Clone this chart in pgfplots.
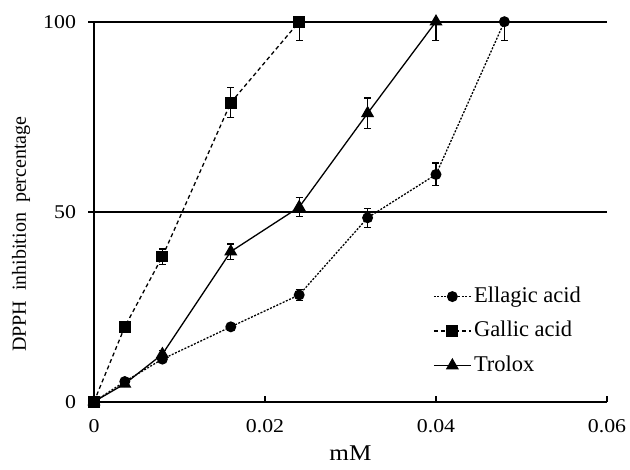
\documentclass[border=0pt]{standalone}
\usepackage{fontspec}
\setmainfont{Liberation Serif}
\newfontfamily\tickfont{Liberation Serif}[FakeStretch=1.12]
\usepackage{pgfplots}
\pgfplotsset{compat=1.18}

\begin{document}
\begin{tikzpicture}
\path[use as bounding box] (-94pt,-68.3pt) rectangle (536pt,401.7pt);
\begin{axis}[
    width=513pt, height=380pt, scale only axis,
    xmin=0, xmax=0.06, ymin=0, ymax=100,
    axis x line=bottom, axis y line=left,
    axis line style={-, line width=2pt},
    xtick={0,0.02,0.04,0.06}, xticklabels={0,0.02,0.04,0.06},
    ytick={0,50,100}, yticklabels={0,50,100},
    scaled x ticks=false,
    major tick length=0pt,
    ymajorgrids, grid style={line width=2pt, black},
    xticklabel style={font=\tickfont\fontsize{19.5}{20}\selectfont, yshift=-14.5pt},
    yticklabel style={font=\tickfont\fontsize{19.5}{20}\selectfont, xshift=-14.5pt},
    xlabel={mM},
    xlabel style={font=\tickfont\fontsize{22.5}{24}\selectfont, at={([yshift=-51pt]rel axis cs:0.5,0)}, anchor=center},
    ylabel={DPPH\ \ inhibition\ \ percentage},
    ylabel style={font=\fontsize{20}{22}\selectfont, at={([xshift=-73pt]rel axis cs:0,0.441)}, anchor=center},
    clip=false,
    legend cell align=left,
    legend image code/.code={\draw[mark repeat=2,mark phase=2,#1] plot coordinates {(0pt,0pt) (18.5pt,0pt) (37pt,0pt)};},
    legend style={draw=none, fill=none, font=\fontsize{22.5}{24}\selectfont,
        at={(rel axis cs:0.655,0.31)}, anchor=north west,
        nodes={inner ysep=0pt, inner xsep=2.5pt, text height=16pt, text depth=5pt}, row sep=13.5pt},
    error bars/error bar style={line width=1.2pt, solid},
    error bars/error mark options={rotate=90, mark size=3.5pt, line width=1.2pt, solid},
]
% tick marks: x inward, y outward
\pgfplotsinvokeforeach{0.02,0.04,0.06}{
  \draw[line width=2pt] (axis cs:#1,0) -- ++(0pt,6pt);
}
\pgfplotsinvokeforeach{0,50,100}{
  \draw[line width=2pt] (axis cs:0,#1) -- ++(-6pt,0pt);
}
\addplot[black, line width=1.3pt, dash pattern=on 2pt off 1.5pt, mark=*, mark size=4.8pt, mark options={solid},
    error bars/.cd, y dir=both, y explicit] coordinates {
    (0,0) (0.0036,5.3) (0.008,11.2) (0.016,19.7) (0.024,28.1) +- (0,1.5)
    (0.032,48.4) +- (0,2.5) (0.04,59.8) +- (0,3) (0.048,100) -= (0,5)
};
\addlegendentry{Ellagic acid}
\addplot[black, line width=1.3pt, dash pattern=on 4pt off 3pt, mark=square*, mark size=5.3pt, mark options={solid},
    error bars/.cd, y dir=both, y explicit] coordinates {
    (0,0) (0.0036,19.7) (0.008,38.2) +- (0,2) (0.016,78.7) +- (0,4) (0.024,100) -= (0,5)
};
\addlegendentry{Gallic acid}
\addplot[black, line width=1.3pt, mark=triangle*, mark size=6.3pt,
    error bars/.cd, y dir=both, y explicit] coordinates {
    (0,0) (0.0036,4.7) (0.008,12.5) +- (0,1) (0.016,39.5) +- (0,2) (0.024,51.2) +- (0,2.5)
    (0.032,75.9) +- (0,4) (0.04,100) -= (0,5)
};
\addlegendentry{Trolox}
\end{axis}
\end{tikzpicture}
\end{document}
